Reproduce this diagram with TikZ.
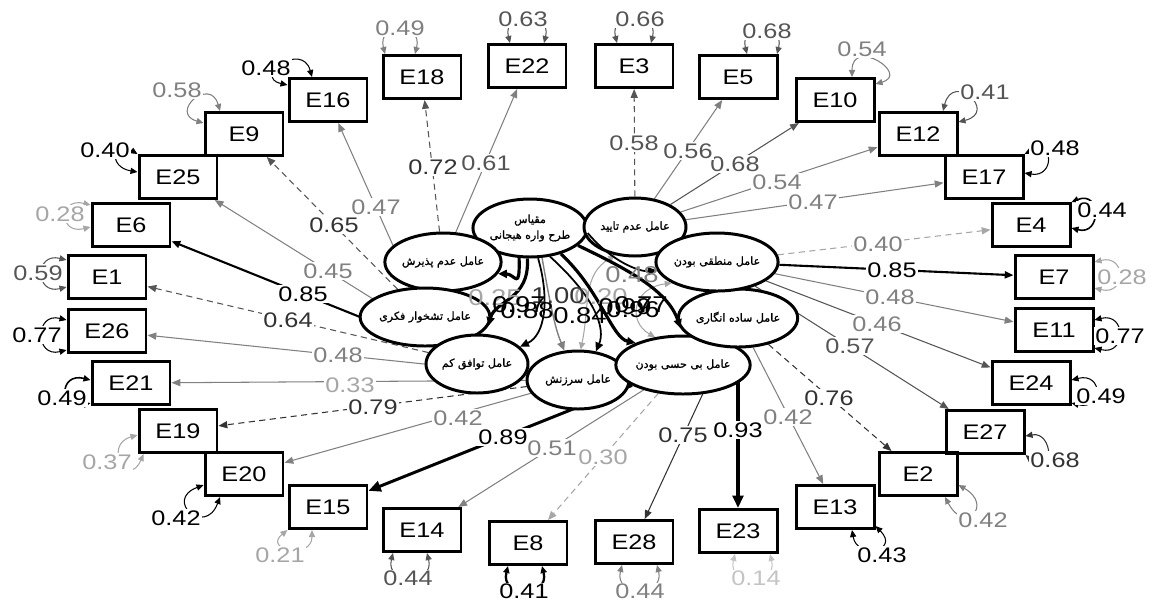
\documentclass[tikz,border=0pt]{standalone}
\usepackage{fontspec}
\setmainfont{Liberation Sans}[FakeStretch=1.2]
\newfontfamily\farsi[Script=Arabic, FakeBold=1.2]{DejaVu Sans}
\TeXXeTstate=1
\usetikzlibrary{shapes.geometric,arrows.meta,calc,backgrounds}
\definecolor{cA}{HTML}{333333}
\definecolor{cB}{HTML}{555555}
\definecolor{cC}{HTML}{808080}
\definecolor{cD}{HTML}{A6A6A6}
\definecolor{cE}{HTML}{C4C4C4}
\begin{document}
\begin{tikzpicture}[x=0.02cm, y=-0.02cm,
  ind/.style={draw, line width=1.7pt, minimum width=1.56cm, minimum height=0.86cm, inner sep=0pt, font=\fontsize{12}{14}\selectfont},
  fac/.style={ellipse, draw, line width=1.7pt, fill=white, minimum width=2.04cm, minimum height=1.16cm, inner sep=0pt, align=center, font=\farsi\fontsize{6.3}{8}\selectfont},
  ld/.style={-{Triangle[length=5pt,width=4pt]}, line width=0.6pt},
  ldk/.style={-{Triangle[length=7pt,width=6pt]}},
  dsh/.style={dash pattern=on 3.5pt off 2.5pt},
  rl/.style={{Triangle[length=4pt,width=3.5pt]}-{Triangle[length=4pt,width=3.5pt]}, line width=0.6pt},
  lb/.style={fill=white, inner sep=0.6pt, font=\fontsize{12}{14}\selectfont},
  cl/.style={inner sep=0pt, font=\fontsize{13}{15}\selectfont},
  cv/.style={-{Triangle[length=5pt,width=4.5pt]}, line width=1.8pt}]
\useasboundingbox (0,0) rectangle (1158,603);

\node[ind] (e18) at (422,77) {E18};
\node[ind] (e22) at (527,66) {E22};
\node[ind] (e3) at (634,66) {E3};
\node[ind] (e5) at (738,77) {E5};
\node[ind] (e10) at (835,100) {E10};
\node[ind] (e12) at (918,134) {E12};
\node[ind] (e17) at (984,177) {E17};
\node[ind] (e4) at (1031,225) {E4};
\node[ind] (e7) at (1054,277) {E7};
\node[ind] (e11) at (1054,330) {E11};
\node[ind] (e24) at (1031,383) {E24};
\node[ind] (e27) at (985,432) {E27};
\node[ind] (e2) at (918,474) {E2};
\node[ind] (e13) at (835,507) {E13};
\node[ind] (e23) at (738,531) {E23};
\node[ind] (e28) at (634,542) {E28};
\node[ind] (e8) at (528,543) {E8};
\node[ind] (e14) at (422,530) {E14};
\node[ind] (e15) at (328,507) {E15};
\node[ind] (e20) at (244,474) {E20};
\node[ind] (e19) at (178,431) {E19};
\node[ind] (e21) at (131,383) {E21};
\node[ind] (e26) at (107,331) {E26};
\node[ind] (e1) at (107,277) {E1};
\node[ind] (e6) at (131,225) {E6};
\node[ind] (e25) at (178,177) {E25};
\node[ind] (e9) at (244,134) {E9};
\node[ind] (e16) at (328,100) {E16};

\node[fac] (fsch) at (530,228) {\beginR مقیاس\endR\\[1pt]\beginR طرح واره هیجانی\endR};
\node[fac] (fdis) at (635,227) {\beginR عامل عدم تایید\endR};
\node[fac] (facc) at (443,262) {\beginR عامل عدم پذیرش\endR};
\node[fac] (frum) at (425,317) {\beginR عامل تشخوار فکری\endR};
\node[fac] (fagr) at (477,364) {\beginR عامل توافق کم\endR};
\node[fac] (fbla) at (578,380) {\beginR عامل سرزنش\endR};
\node[fac] (fnum) at (683,365) {\beginR عامل بی حسی بودن\endR};
\node[fac] (fsim) at (738,318) {\beginR عامل ساده انگاری\endR};
\node[fac] (frat) at (717,262) {\beginR عامل منطقی بودن\endR};

\begin{scope}[on background layer]
\draw[ld, cB, dsh] (facc) -- (e18);
\draw[ld, cC] (facc) -- (e22);
\draw[ld, cC] (frum) -- (e16);
\draw[ld, cB, dsh] (frum) -- (e9);
\draw[ld, cC] (fagr) -- (e25);
\draw[ld, black, line width=1.2pt] (fagr) -- (e6);
\draw[ld, cB, dsh] (fagr) -- (e1);
\draw[ld, cC] (fbla) -- (e26);
\draw[ld, cC] (fbla) -- (e21);
\draw[ld, cA, dsh] (fbla) -- (e19);
\draw[ld, cC] (fbla) -- (e20);
\draw[ldk, black, line width=1.7pt] (fnum) -- (e15);
\draw[ld, cC] (fnum) -- (e14);
\draw[ld, cD, dsh] (fnum) -- (e8);
\draw[ld, cA] (fsim) -- (e28);
\draw[ldk, black, line width=2.2pt] (fsim) -- (e23);
\draw[ld, cC] (fsim) -- (e13);
\draw[ld, cA, dsh] (fsim) -- (e2);
\draw[ld, cB] (frat) -- (e27);
\draw[ld, cB] (frat) -- (e24);
\draw[ld, cC] (frat) -- (e11);
\draw[ld, black, line width=1.2pt] (frat) -- (e7);
\draw[ld, cD, dsh] (frat) -- (e4);
\draw[ld, cC] (fdis) -- (e17);
\draw[ld, cC] (fdis) -- (e12);
\draw[ld, cB] (fdis) -- (e10);
\draw[ld, cC] (fdis) -- (e5);
\draw[ld, cB, dsh] (fdis) -- (e3);
\end{scope}

\node[lb, text=cA] (w18) at (433,167) {0.72};
\node[lb, text=cB] (w22) at (486,163) {0.61};
\node[lb, text=cC] (w16) at (376,207) {0.47};
\node[lb, text=cA] (w9) at (334,225) {0.65};
\node[lb, text=cC] (w25) at (328,271) {0.45};
\node[lb] (w6) at (303,294) {0.85};
\node[lb, text=cA] (w1) at (288,320) {0.64};
\node[lb, text=cC] (w26) at (338,355) {0.48};
\node[lb, text=cD] (w21) at (350,385) {0.33};
\node[lb, text=cA] (w19) at (373,407) {0.79};
\node[lb, text=cC] (w20) at (458,418) {0.42};
\node[lb] (w15) at (503,437) {0.89};
\node[lb, text=cC] (w14) at (552,448) {0.51};
\node[lb, text=cD] (w8) at (603,457) {0.30};
\node[lb, text=cA] (w28) at (683,435) {0.75};
\node[lb] (w23) at (738,430) {0.93};
\node[lb, text=cC] (w13) at (788,417) {0.42};
\node[lb, text=cA] (w2) at (829,398) {0.76};
\node[lb, text=cB] (w27) at (850,346) {0.57};
\node[lb, text=cC] (w24) at (877,324) {0.46};
\node[lb, text=cC] (w11) at (890,297) {0.48};
\node[lb] (w7) at (892,270) {0.85};
\node[lb, text=cC] (w4) at (878,244) {0.40};
\node[lb, text=cC] (w17) at (813,202) {0.47};
\node[lb, text=cC] (w12) at (777,182) {0.54};
\node[lb, text=cB] (w10) at (735,164) {0.68};
\node[lb, text=cB] (w5) at (688,151) {0.56};
\node[lb, text=cB] (w3) at (634,143) {0.58};

\draw[rl, cC] ($(e18.north)+(-37,0)$) .. controls +(-8,-32) and +(8,-32) .. ($(e18.north)+(-7,0)$);
\node[lb, text=cC] (r18) at (400,28) {0.49};
\draw[rl, cB] ($(e22.north)+(-17,0)$) .. controls +(-8,-32) and +(8,-32) .. ($(e22.north)+(17,0)$);
\node[lb, text=cB] (r22) at (523,19) {0.63};
\draw[rl, cB] ($(e3.north)+(-17,0)$) .. controls +(-8,-32) and +(8,-32) .. ($(e3.north)+(17,0)$);
\node[lb, text=cB] (r3) at (640,19) {0.66};
\draw[rl, cB] ($(e5.north)+(9,0)$) .. controls +(-8,-32) and +(8,-32) .. ($(e5.north)+(39,0)$);
\node[lb, text=cB] (r5) at (767,31) {0.68};
\draw[rl, cC] ($(e10.north)+(17,0)$) .. controls +(0,-40) and +(35,-10) .. ($(e10.east)+(0,-16)$);
\node[lb, text=cC] (r10) at (862,49) {0.54};
\draw[rl, cB] ($(e12.north)+(25,0)$) .. controls +(10,-40) and +(40,-10) .. ($(e12.east)+(0,-12)$);
\node[lb, text=cB] (r12) at (985,92) {0.41};
\draw[rl, black] (e17.north east) .. controls +(30,-15) and +(30,5) .. ($(e17.east)+(0,-4)$);
\node[lb] (r17) at (1055,148) {0.48};
\draw[rl, black, line width=0.9pt] (e4.north east) .. controls +(30,-12) and +(30,8) .. ($(e4.east)+(0,3)$);
\node[lb] (r4) at (1102,210) {0.44};
\draw[rl, cD] ($(e7.east)+(0,-15)$) .. controls +(32,-8) and +(32,8) .. ($(e7.east)+(0,11)$);
\node[lb, text=cD] (r7) at (1122,277) {0.28};
\draw[rl, black] ($(e11.east)+(0,-10)$) .. controls +(32,-8) and +(32,8) .. ($(e11.east)+(0,18)$);
\node[lb] (r11) at (1120,336) {0.77};
\draw[rl, black] ($(e24.east)+(0,-3)$) .. controls +(32,-8) and +(32,8) .. ($(e24.east)+(0,20)$);
\node[lb] (r24) at (1101,396) {0.49};
\draw[rl, cA] ($(e27.east)+(0,4)$) .. controls +(28,-5) and +(30,25) .. (e27.south east);
\node[lb, text=cA] (r27) at (1055,460) {0.68};
\draw[rl, cC] ($(e2.east)+(0,11)$) .. controls +(35,20) and +(20,38) .. ($(e2.south)+(27,0)$);
\node[lb, text=cC] (r2) at (983,520) {0.42};
\draw[rl, black] ($(e13.south)+(17,0)$) .. controls +(5,30) and +(25,25) .. ($(e13.east)+(0,19)$);
\node[lb] (r13) at (882,555) {0.43};
\draw[rl, cE] ($(e23.south)+(-3,0)$) .. controls +(-8,32) and +(8,32) .. ($(e23.south)+(32,0)$);
\node[lb, text=cE] (r23) at (756,578) {0.14};
\draw[rl, cC] ($(e28.south)+(-12,0)$) .. controls +(-8,32) and +(8,32) .. ($(e28.south)+(23,0)$);
\node[lb, text=cC] (r28) at (640,591) {0.44};
\draw[rl, black, line width=1.3pt] ($(e8.south)+(-20,0)$) .. controls +(-8,32) and +(8,32) .. ($(e8.south)+(14,0)$);
\node[lb] (r8) at (524,591) {0.41};
\draw[rl, cB] ($(e14.south)+(-29,0)$) .. controls +(-8,32) and +(8,32) .. ($(e14.south)+(5,0)$);
\node[lb, text=cB] (r14) at (408,578) {0.44};
\draw[rl, cD] (e15.south west) .. controls +(-25,20) and +(0,30) .. ($(e15.south)+(-16,0)$);
\node[lb, text=cD] (r15) at (280,555) {0.21};
\draw[rl, black] ($(e20.west)+(0,11)$) .. controls +(-40,15) and +(-15,40) .. ($(e20.south)+(-24,0)$);
\node[lb] (r20) at (176,518) {0.42};
\draw[rl, cD] ($(e19.west)+(0,4)$) .. controls +(-35,10) and +(-15,35) .. ($(e19.south west)+(6,0)$);
\node[lb, text=cD] (r19) at (107,462) {0.37};
\draw[rl, black, line width=0.9pt] ($(e21.west)+(0,-3)$) .. controls +(-32,-8) and +(-32,8) .. ($(e21.west)+(0,20)$);
\node[lb] (r21) at (62,398) {0.49};
\draw[rl, black] ($(e26.west)+(0,-11)$) .. controls +(-32,-8) and +(-32,8) .. ($(e26.west)+(0,19)$);
\node[lb] (r26) at (37,335) {0.77};
\draw[rl, cB] ($(e1.west)+(0,-17)$) .. controls +(-32,-8) and +(-32,8) .. ($(e1.west)+(0,10)$);
\node[lb, text=cB] (r1) at (38,273) {0.59};
\draw[rl, cD] ($(e6.west)+(0,-20)$) .. controls +(-32,-8) and +(-32,8) .. ($(e6.west)+(0,2)$);
\node[lb, text=cD] (r6) at (60,214) {0.28};
\draw[rl, black] (e25.north west) .. controls +(-25,-15) and +(-30,-5) .. ($(e25.west)+(0,-5)$);
\node[lb] (r25) at (105,150) {0.40};
\draw[rl, cC] ($(e9.north)+(-24,0)$) .. controls +(-10,-35) and +(-35,-10) .. ($(e9.west)+(0,-11)$);
\node[lb, text=cC] (r9) at (177,90) {0.58};
\draw[rl, black] ($(e16.west)+(0,-15)$) .. controls +(-35,-8) and +(-10,-36) .. ($(e16.north)+(-16,0)$);
\node[lb] (r16) at (266,68) {0.48};

\draw[rl, cD] (fdis.235) .. controls (582,275) and (590,305) .. (fbla.85);
\draw[rl, cD] (frat.205) .. controls (632,288) and (628,322) .. (fnum.135);
\draw[cv] (fsch.250) .. controls (520,292) and (515,274) .. (facc.-12);
\draw[cv] (fsch.265) .. controls (530,300) and (495,300) .. (frum.-8);
\draw[cv, line width=1pt] (fsch.285) .. controls (550,300) and (545,335) .. (fagr.22);
\draw[cv, cC, line width=0.8pt] (fsch.292) .. controls (552,315) and (556,330) .. (fbla.115);
\draw[cv, line width=1pt] (fsch.305) .. controls (598,300) and (605,330) .. (fbla.58);
\draw[cv] (fsch.320) .. controls (600,290) and (612,338) .. (fnum.155);
\draw[cv] (fsch.340) .. controls (625,268) and (668,290) .. (fsim.190);
\draw[cv, line width=1pt] (fsch.355) .. controls (612,262) and (640,272) .. (frat.188);

\node[cl, text=cC] (s48) at (632,275) {0.48};
\node[cl, text=cD] (s25) at (495,298) {0.25};
\node[cl, text=cD] (s20) at (601,297) {0.20};
\node[cl, text=cA] (s100) at (558,296) {1.00};
\node[cl] (s97) at (519,305) {0.97};
\node[cl] (s88) at (527,311) {0.88};
\node[cl] (s84) at (580,316) {0.84};
\node[cl] (s99) at (625,307) {0.99};
\node[cl] (s96) at (633,310) {0.96};
\node[cl] (s77) at (641,305) {0.77};
\end{tikzpicture}
\end{document}
